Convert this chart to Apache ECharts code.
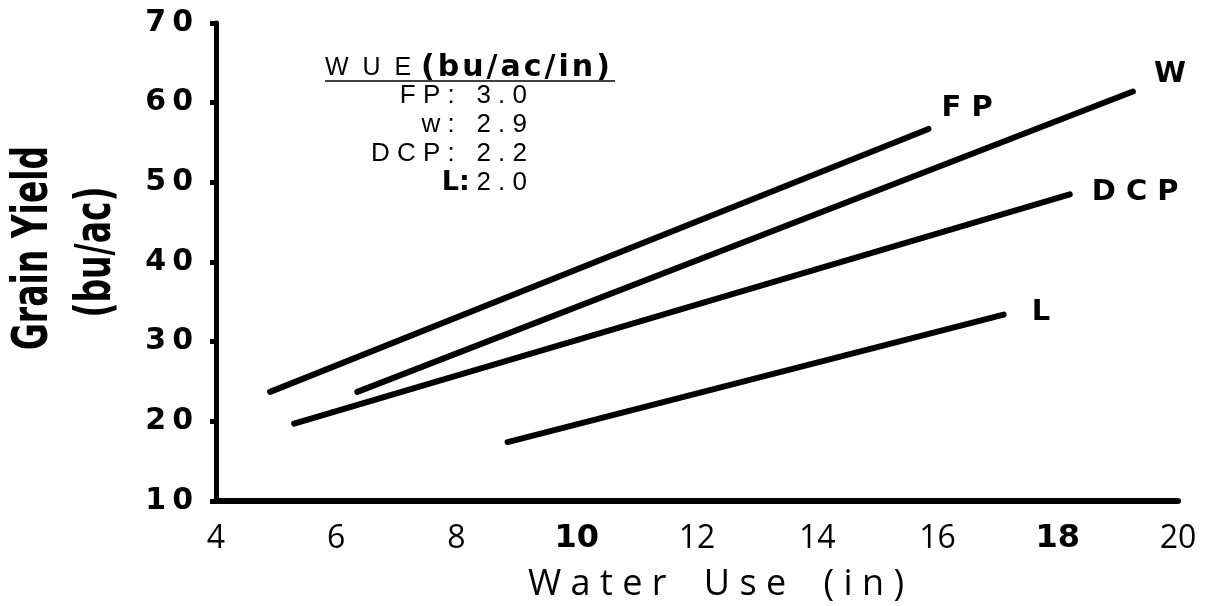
<!DOCTYPE html>
<html>
<head>
<meta charset="utf-8">
<script src="https://cdn.jsdelivr.net/npm/echarts@6/dist/echarts.min.js"></script>
<style>
  html, body { margin: 0; padding: 0; background: #fff; }
  #chart { width: 1213px; height: 606px; }
</style>
</head>
<body>
<div id="chart"></div>
<script>
// Water use (in) vs grain yield (bu/ac), one fitted line per system
const seriesNames = ['FP', 'W', 'DCP', 'L']
const fpLine = [[4.9, 23.7], [15.85, 56.7]]
const wLine = [[6.35, 23.7], [19.25, 61.4]]
const dcpLine = [[5.3, 19.7], [18.2, 48.5]]
const lLine = [[8.85, 17.4], [17.1, 33.4]]

const xTicks = [4, 6, 8, 10, 12, 14, 16, 18, 20]
const boldXTicks = [10, 18]
const yTicks = [10, 20, 30, 40, 50, 60, 70]

// WUE box
const wueNames = ['FP', 'w', 'DCP', 'L']
const wueValues = ['3.0', '2.9', '2.2', '2.0']

const thin = '\u2009'
const hair = '\u200A'
const spaced = (s, gap = ' ') => s.split('').join(gap)

const ink = '#000'
const heavy = '"DejaVu Sans", sans-serif'
const plain = '"Liberation Sans", Arial, sans-serif'

const chart = echarts.init(document.getElementById('chart'))

const lineData = [fpLine, wLine, dcpLine, lLine]
// where each end label sits relative to the end of its line
const labelOffsets = [[5, -20], [13, -17], [14, -2], [20, -2]]

const wueRows = wueNames.map((n, i) => ({
  type: 'text',
  x: 527,
  y: 96 + i * 29,
  style: {
    text: n === 'L'
      ? '{b|L:}  {r|' + spaced(wueValues[i]) + '}'
      : '{r|' + spaced(n + ':') + '   ' + spaced(wueValues[i]) + '}',
    align: 'right',
    verticalAlign: 'middle',
    rich: {
      r: { fontFamily: plain, fontSize: 26, fill: ink },
      b: { fontFamily: heavy, fontWeight: 'bold', fontSize: 27, fill: ink }
    }
  }
}))

// rotated y title, squeezed along the text to get the condensed look
const yTitle = (text, x, y) => ({
  type: 'text',
  x,
  y,
  rotation: Math.PI / 2,
  scaleX: 0.66,
  style: {
    text,
    align: 'center',
    verticalAlign: 'middle',
    fontFamily: heavy,
    fontWeight: 'bold',
    fontSize: 50,
    fill: ink
  }
})

const option = {
  animation: false,
  backgroundColor: '#fff',
  grid: { left: 216, right: 35, top: 23, bottom: 105, outerBoundsMode: 'none' },
  xAxis: {
    type: 'value',
    min: 4,
    max: 20,
    interval: 2,
    name: spaced('Water') + '    ' + spaced('Use') + '    ' + spaced('(in)'),
    nameLocation: 'middle',
    nameGap: 66,
    nameTextStyle: { fontFamily: '"Open Sans", sans-serif', fontSize: 36, color: ink, padding: [0, 0, 0, 38] },
    axisLine: { show: true, lineStyle: { color: ink, width: 6 } },
    axisTick: { show: false },
    splitLine: { show: false },
    axisLabel: {
      margin: 22,
      formatter: v => boldXTicks.includes(v) ? '{b|' + v + '}' : '{r|' + v + '}',
      rich: {
        r: { fontFamily: '"Open Sans", sans-serif', fontSize: 32, color: ink },
        b: { fontFamily: heavy, fontWeight: 'bold', fontSize: 32, color: ink }
      }
    }
  },
  yAxis: {
    type: 'value',
    min: yTicks[0],
    max: yTicks[yTicks.length - 1],
    interval: 10,
    axisLine: { show: true, lineStyle: { color: ink, width: 5 } },
    axisTick: { show: true, length: 6, lineStyle: { color: ink, width: 5 } },
    splitLine: { show: false },
    axisLabel: {
      margin: 23,
      fontFamily: heavy,
      fontWeight: 'bold',
      fontSize: 30,
      color: ink,
      formatter: v => spaced(String(v), thin)
    }
  },
  series: seriesNames.map((name, i) => ({
    name,
    type: 'line',
    data: lineData[i],
    symbol: 'none',
    smooth: false,
    lineStyle: { color: ink, width: 6, cap: 'round' },
    endLabel: {
      show: true,
      formatter: () => spaced(name),
      offset: labelOffsets[i],
      fontFamily: heavy,
      fontWeight: 'bold',
      fontSize: 29,
      color: ink
    }
  })),
  graphic: [
    yTitle('Grain Yield', 34, 248),
    yTitle('(bu/ac)', 97, 252),
    {
      type: 'text',
      x: 325,
      y: 68,
      style: {
        text: '{r|' + spaced('WUE', '  ') + '}   {b|' + spaced('(bu/ac/in)', hair) + '}',
        align: 'left',
        verticalAlign: 'middle',
        rich: {
          r: { fontFamily: plain, fontSize: 25, fill: ink },
          b: { fontFamily: heavy, fontWeight: 'bold', fontSize: 30, fill: ink }
        }
      }
    },
    {
      type: 'line',
      shape: { x1: 325, y1: 81, x2: 615, y2: 81 },
      style: { stroke: ink, lineWidth: 1.5 }
    },
    ...wueRows
  ]
}

chart.setOption(option)
</script>
</body>
</html>
